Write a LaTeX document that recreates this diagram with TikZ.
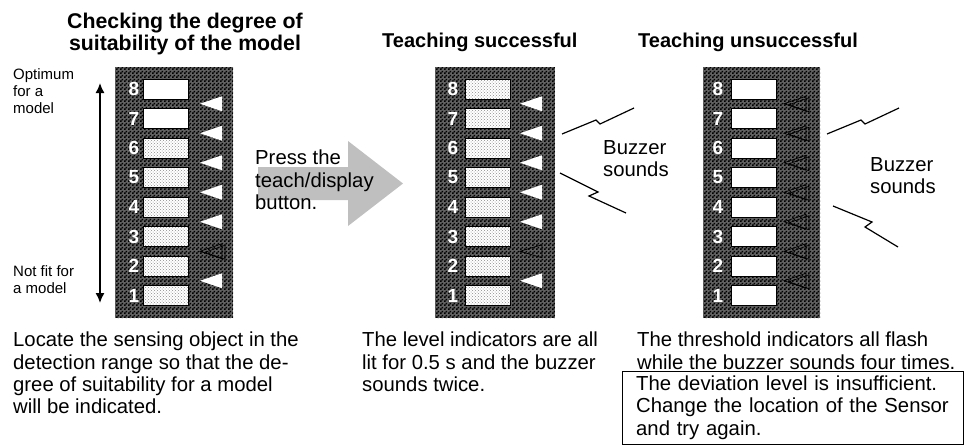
\documentclass[tikz,border=0pt]{standalone}
\usepackage{fontspec}
\setmainfont{Liberation Sans}
\usetikzlibrary{arrows.meta,patterns}

\pgfdeclarepatternformonly{finecheck}{\pgfqpoint{0pt}{0pt}}{\pgfqpoint{4pt}{4pt}}{\pgfqpoint{4pt}{4pt}}{%
  \pgfpathrectangle{\pgfqpoint{0pt}{0pt}}{\pgfqpoint{2pt}{2pt}}%
  \pgfpathrectangle{\pgfqpoint{2pt}{2pt}}{\pgfqpoint{2pt}{2pt}}%
  \pgfusepath{fill}}

\tikzset{
  panel/.style={fill=black!62, postaction={pattern=finecheck, pattern color=black}},
  winbase/.style={draw, line width=1pt, minimum width=45pt, minimum height=20pt, inner sep=0pt},
  winoff/.style={winbase, fill=white},
  winlit/.style={winbase, preaction={fill=white}, pattern=crosshatch dots, pattern color=black!45},
  digit/.style={text=white, font=\fontsize{19}{19}\selectfont\bfseries, inner sep=0pt},
  heading/.style={font=\fontsize{20}{21.5}\selectfont\bfseries, inner sep=0pt},
  bodytext/.style={font=\fontsize{20.3}{22.3}\selectfont, align=left, inner sep=0pt},
  sidetext/.style={font=\fontsize{15}{17}\selectfont, align=left, inner sep=0pt},
  bolt/.style={line width=1.2pt},
  scalearrow/.style={line width=1.5pt, {Latex[length=10pt,width=9pt]}-{Latex[length=10pt,width=9pt]}},
  pics/lamp/.style={code={\fill[white] (0,0) -- (22,-7.5) -- (22,7.5) -- cycle;}},
  pics/dim/.style={code={\draw[line width=0.7pt] (0,0) -- (22,-6.5) -- (22,6.5) -- cycle;}},
  pics/flash/.style={code={
    \draw[line width=0.7pt] (0,0) -- (22,-7.5) -- (22,7.5) -- cycle;
    \draw[line width=0.7pt] (5,1) -- (25,-6) -- (25,8) -- cycle;}}
}

\begin{document}
\begin{tikzpicture}[x=1pt,y=-1pt]
  \useasboundingbox (0,0) rectangle (965,445);

  % titles
  \node[heading, font=\fontsize{21.3}{21.5}\selectfont\bfseries, anchor=north, align=center] (t1) at (185,13) {Checking the degree of\\suitability of the model};
  \node[heading, anchor=north west] (t2) at (382,33) {Teaching successful};
  \node[heading, anchor=north west] (t3) at (638,33) {Teaching unsuccessful};

  % first display
  \path[panel] (115,67) rectangle (233,318);
  \foreach \n/\st in {1/winlit,2/winlit,3/winlit,4/winlit,5/winlit,6/winlit,7/winoff,8/winoff}{
    \node[\st] (a\n) at (165.5,{89+(8-\n)*29.5}) {};
    \node[digit] (an\n) at (134,{89+(8-\n)*29.5}) {\n};
  }
  \foreach \n in {8,7,6,5,4,2}
    \pic at (200,{103.75+(8-\n)*29.5}) {lamp};
  \pic at (200,{103.75+5*29.5}) {flash};

  \coordinate (hi) at (100,83);
  \coordinate (lo) at (100,303);
  \draw[scalearrow] (hi) -- (lo);
  \node[sidetext, anchor=north west] (best) at (13,68) {Optimum\\for a\\model};
  \node[sidetext, anchor=north west] (worst) at (13,265) {Not fit for\\a model};

  % button arrow
  \fill[black!25] (258,167) -- (348,167) -- (348,141) -- (403,183.5) -- (348,226) -- (348,200) -- (258,200) -- cycle;
  \node[bodytext, anchor=north west] (press) at (255,150) {Press the\\teach/display\\button.};

  % second display
  \path[panel] (435,67) rectangle (555,318);
  \foreach \n in {1,...,8}{
    \node[winlit] (b\n) at (487.5,{89+(8-\n)*29.5}) {};
    \node[digit] (bn\n) at (453,{89+(8-\n)*29.5}) {\n};
  }
  \foreach \n in {8,7,6,5,4,2}
    \pic at (520,{103.75+(8-\n)*29.5}) {lamp};
  \pic at (520,{103.75+5*29.5}) {dim};
  \draw[bolt] (562,134) -- (596,120) -- (600,124) -- (634,108);
  \draw[bolt] (560,173) -- (598,192) -- (589,196) -- (626,213);
  \node[bodytext, anchor=north west] (buzz2) at (603,140) {Buzzer\\sounds};

  % third display
  \path[panel] (703,67) rectangle (820,318);
  \foreach \n in {1,...,8}{
    \node[winoff] (c\n) at (753.5,{89+(8-\n)*29.5}) {};
    \node[digit] (cn\n) at (718,{89+(8-\n)*29.5}) {\n};
  }
  \foreach \n in {8,...,2}
    \pic at (784,{103.75+(8-\n)*29.5}) {flash};
  \draw[bolt] (827,134) -- (861,120) -- (865,124) -- (899,108);
  \draw[bolt] (833,206) -- (872,222) -- (865,227) -- (898,247);
  \node[bodytext, anchor=north west] (buzz3) at (870,157) {Buzzer\\sounds};

  % captions
  \node[bodytext, anchor=north west] (txt1) at (13,332) {Locate the sensing object in the\\detection range so that the de-\\gree of suitability for a model\\will be indicated.};
  \node[bodytext, anchor=north west] (txt2) at (362,332) {The level indicators are all\\lit for 0.5 s and the buzzer\\sounds twice.};
  \node[bodytext, anchor=north west] (txt3) at (637,332) {The threshold indicators all flash\\while the buzzer sounds four times.};
  \node[bodytext, draw, anchor=north west, text width=313pt, inner xsep=14pt, inner ysep=4.5pt] (box) at (622,371) {The deviation level is insufficient.\\Change the location of the Sensor\\and try again.};
\end{tikzpicture}
\end{document}
